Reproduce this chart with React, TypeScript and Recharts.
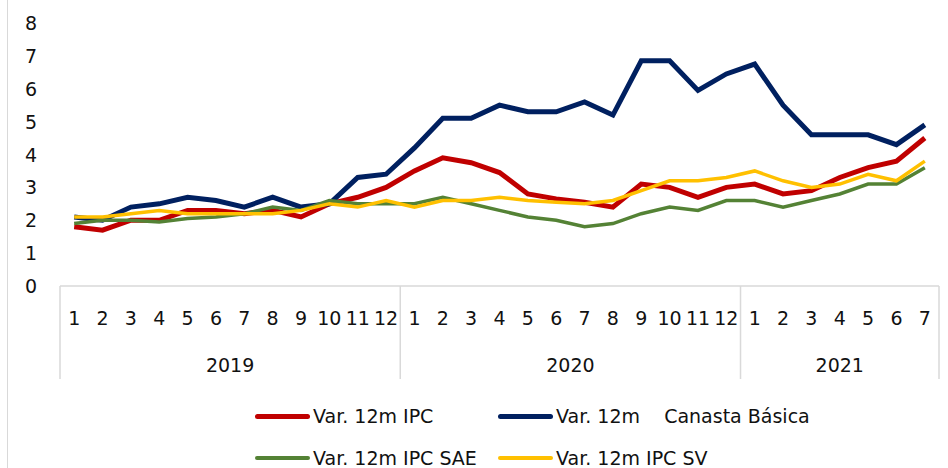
import { LineChart, Line, XAxis, YAxis, Legend } from "recharts";

// categories: month numbers, grouped by year
const yearGroups = [
  { year: "2019", count: 12 },
  { year: "2020", count: 12 },
  { year: "2021", count: 7 },
];
const monthLabels = [
  "1", "2", "3", "4", "5", "6", "7", "8", "9", "10", "11", "12",
  "1", "2", "3", "4", "5", "6", "7", "8", "9", "10", "11", "12",
  "1", "2", "3", "4", "5", "6", "7",
];

// series values
const ipc = [1.8, 1.7, 2.0, 2.0, 2.3, 2.3, 2.2, 2.3, 2.1, 2.5, 2.7, 3.0, 3.5, 3.9, 3.75, 3.45, 2.8, 2.65, 2.55, 2.4, 3.1, 3.0, 2.7, 3.0, 3.1, 2.8, 2.9, 3.3, 3.6, 3.8, 4.5];
const canasta = [2.1, 2.0, 2.4, 2.5, 2.7, 2.6, 2.4, 2.7, 2.4, 2.5, 3.3, 3.4, 4.2, 5.1, 5.1, 5.5, 5.3, 5.3, 5.6, 5.2, 6.85, 6.85, 5.95, 6.45, 6.75, 5.5, 4.6, 4.6, 4.6, 4.3, 4.9];
const sae = [1.9, 2.0, 2.0, 1.95, 2.05, 2.1, 2.2, 2.4, 2.3, 2.6, 2.5, 2.5, 2.5, 2.7, 2.5, 2.3, 2.1, 2.0, 1.8, 1.9, 2.2, 2.4, 2.3, 2.6, 2.6, 2.4, 2.6, 2.8, 3.1, 3.1, 3.6];
const sv = [2.1, 2.1, 2.2, 2.3, 2.2, 2.2, 2.2, 2.2, 2.3, 2.5, 2.4, 2.6, 2.4, 2.6, 2.6, 2.7, 2.6, 2.55, 2.5, 2.6, 2.9, 3.2, 3.2, 3.3, 3.5, 3.2, 3.0, 3.1, 3.4, 3.2, 3.8];

const seriesNames = ["Var. 12m IPC", "Var. 12m    Canasta Básica", "Var. 12m IPC SAE", "Var. 12m IPC SV"];
const yTicks = [0, 1, 2, 3, 4, 5, 6, 7, 8];

const years: string[] = yearGroups.flatMap((g) => Array(g.count).fill(g.year));
const data = monthLabels.map((m, i) => ({
  month: m,
  year: years[i],
  ipc: ipc[i],
  canasta: canasta[i],
  sae: sae[i],
  sv: sv[i],
}));

const W = 948;
const H = 468;
const TOP = 23;
const LEFT = 60;
const RIGHT = 9;
const XAXIS_H = 100;
const LEGEND_H = 82;
const AXIS_Y = H - LEGEND_H - XAXIS_H; // 286
const BAND = (W - LEFT - RIGHT) / monthLabels.length;
const FONT = "DejaVu Sans";
const GRID = "#d9d9d9";

const groupStarts: { [k: number]: { year: string; count: number } } = {};
{
  let s = 0;
  yearGroups.forEach((g) => {
    groupStarts[s] = g;
    s += g.count;
  });
}

// month label + year group label and divider lines (Excel style multi-level axis)
function XTick(props: any) {
  const { x, index, payload } = props;
  const g = groupStarts[index];
  const last = index === monthLabels.length - 1;
  return (
    <g>
      <text x={x} y={AXIS_Y + 39} textAnchor="middle" fontSize={19} fontFamily={FONT} fill="#111">
        {payload.value}
      </text>
      {g && (
        <>
          <line x1={x - BAND / 2} x2={x - BAND / 2} y1={AXIS_Y} y2={AXIS_Y + 93} stroke={GRID} strokeWidth={1.5} />
          <text x={x + ((g.count - 1) / 2) * BAND} y={AXIS_Y + 86} textAnchor="middle" fontSize={19} fontFamily={FONT} fill="#111">
            {g.year}
          </text>
        </>
      )}
      {last && <line x1={x + BAND / 2} x2={x + BAND / 2} y1={AXIS_Y} y2={AXIS_Y + 93} stroke={GRID} strokeWidth={1.5} />}
    </g>
  );
}

function YTick(props: any) {
  const { y, payload } = props;
  return (
    <text x={37} y={y + 7} textAnchor="end" fontSize={19} fontFamily={FONT} fill="#111">
      {payload.value}
    </text>
  );
}

const legendPos = [
  { left: 255, top: 30, w: 5 },
  { left: 498, top: 30, w: 5 },
  { left: 255, top: 72, w: 4 },
  { left: 498, top: 72, w: 4 },
];

function LegendContent(props: any) {
  const payload = props.payload || [];
  return (
    <div style={{ position: "relative", width: W, height: LEGEND_H, fontFamily: FONT, fontSize: 19, color: "#111" }}>
      {payload.map((p: any) => {
        const i = seriesNames.indexOf(p.value);
        const pos = legendPos[i];
        if (!pos) return null;
        return (
          <div key={p.value} style={{ position: "absolute", left: pos.left, top: pos.top, display: "flex", alignItems: "center", transform: "translateY(-50%)" }}>
            <span style={{ display: "inline-block", width: 55, height: pos.w, background: p.color, borderRadius: 3, marginRight: 3 }} />
            <span style={{ whiteSpace: "pre", lineHeight: "22px" }}>{p.value}</span>
          </div>
        );
      })}
    </div>
  );
}

export default function App() {
  return (
    <div style={{ position: "absolute", left: 0, top: 0, width: W, height: H, background: "#fff", overflow: "hidden" }}>
      <div style={{ position: "absolute", left: 7, top: 0, width: 1, height: H, background: GRID }} />
      <LineChart width={W} height={H} data={data} margin={{ top: TOP, right: RIGHT, left: 0, bottom: 0 }}>
        <YAxis
          width={LEFT}
          domain={[0, 8]}
          ticks={yTicks}
          interval={0}
          axisLine={false}
          tickLine={false}
          tick={(p: any) => <YTick {...p} />}
        />
        <XAxis
          dataKey="month"
          height={XAXIS_H}
          interval={0}
          padding={{ left: BAND / 2, right: BAND / 2 }}
          axisLine={{ stroke: GRID, strokeWidth: 1.5 }}
          tickLine={false}
          tick={(p: any) => <XTick {...p} />}
        />
        <Legend
          verticalAlign="bottom"
          height={LEGEND_H}
          wrapperStyle={{ left: 0, width: W }}
          content={(p: any) => <LegendContent {...p} />}
        />
        <Line dataKey="ipc" name={seriesNames[0]} stroke="#C00000" strokeWidth={5} dot={false} isAnimationActive={false} />
        <Line dataKey="canasta" name={seriesNames[1]} stroke="#002060" strokeWidth={5} dot={false} isAnimationActive={false} />
        <Line dataKey="sae" name={seriesNames[2]} stroke="#548235" strokeWidth={3.5} dot={false} isAnimationActive={false} />
        <Line dataKey="sv" name={seriesNames[3]} stroke="#FFC000" strokeWidth={3.5} dot={false} isAnimationActive={false} />
      </LineChart>
    </div>
  );
}
